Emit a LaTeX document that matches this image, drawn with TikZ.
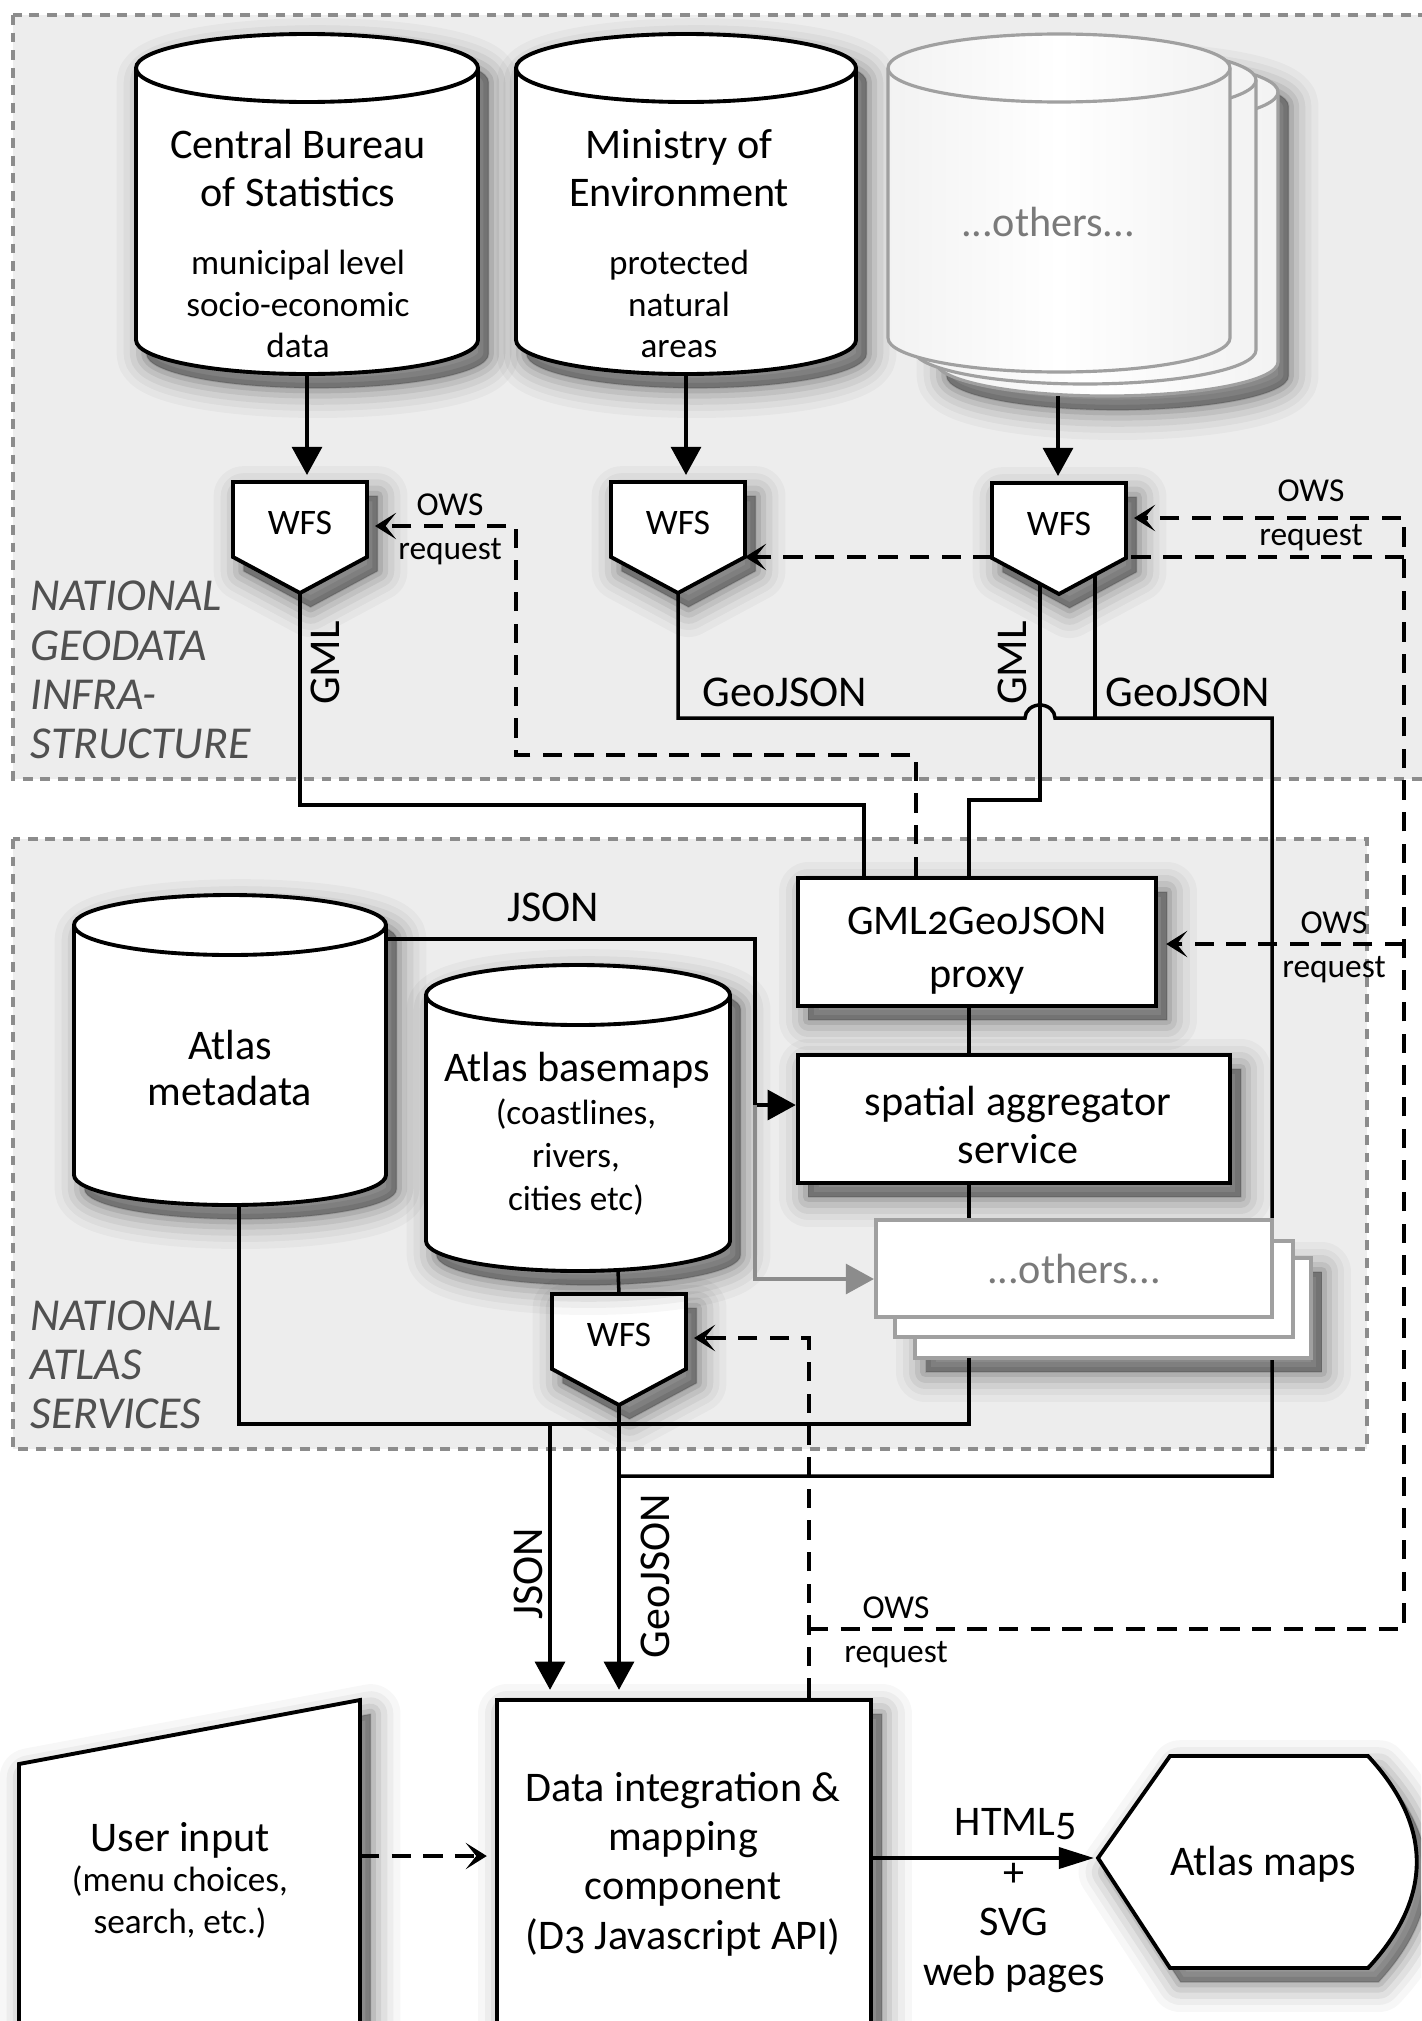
\documentclass[tikz,border=0pt]{standalone}
\usepackage{fontspec}
\setmainfont{Carlito}[Numbers=OldStyle]
\usetikzlibrary{arrows.meta}

\definecolor{regionfill}{HTML}{EDEDED}
\definecolor{regionedge}{HTML}{8C8C8C}
\definecolor{titlegray}{HTML}{505050}
\definecolor{ghostedge}{HTML}{A0A0A0}
\definecolor{ghosttext}{HTML}{7A7A7A}

\pgfdeclarelayer{backdrop}
\pgfdeclarelayer{under}
\pgfsetlayers{backdrop,under,main}

\newcommand\fsmain{\fontsize{12}{13.7}\selectfont}
\newcommand\fssub{\fontsize{10}{11.9}\selectfont}
\newcommand\fswfs{\fontsize{10.2}{12}\selectfont}
\newcommand\fsows{\fontsize{9.5}{12.5}\selectfont}
\newcommand\fsflow{\fontsize{12.5}{14}\selectfont}
\newcommand\fsregion{\fontsize{13}{14}\selectfont\itshape}

% database drum: body style, rim style, centre x, radius, top y, bottom y, ellipse half-height
\newcommand\dbdrum[7]{%
  \path[#1] (#3-#4,#5) -- (#3-#4,#6)
    arc[start angle=180,end angle=0,x radius=#4,y radius=#7]
    -- (#3+#4,#5)
    arc[start angle=0,end angle=-180,x radius=#4,y radius=#7] -- cycle;
  \path[#2] (#3+#4,#5) arc[start angle=0,end angle=180,x radius=#4,y radius=#7];
}

% WFS service marker: name, centre x, top y
\newcommand\wfsnode[3]{%
  \path[wfsbody] (#2-67,#3) -- (#2+67,#3) -- (#2+67,#3+75) -- (#2,#3+111) -- (#2-67,#3+75) -- cycle;
  \node[wfslabel] (#1) at (#2,#3+41) {WFS};
  \coordinate (#1-top) at (#2,#3);
  \coordinate (#1-tip) at (#2,#3+111);
  \coordinate (#1-r) at (#2+67,#3);
}

\begin{document}
\begin{tikzpicture}[x=0.01cm,y=-0.01cm,
  shadowlayer/.style n args={2}{preaction={draw=black,fill=black,draw opacity=#1,fill opacity=#1,
      line width=#2,line join=round,transform canvas={xshift=3pt,yshift=-4pt}}},
  softshadow/.style={shadowlayer={0.03}{17pt},shadowlayer={0.04}{13pt},shadowlayer={0.05}{9.5pt},
      shadowlayer={0.07}{6pt},shadowlayer={0.09}{3pt},shadowlayer={0.10}{0.5pt}},
  region/.style={fill=regionfill,draw=regionedge,line width=1pt,dash pattern=on 2.8pt off 2.2pt},
  regiontitle/.style={anchor=west,align=left,font=\fsregion,text=titlegray,inner sep=0pt},
  drumbody/.style={fill=white,draw=black,line width=1.1pt,softshadow},
  drumrim/.style={draw=black,line width=1.1pt},
  ghostbody/.style={draw=ghostedge,line width=0.9pt,left color=black!5,right color=black!5,middle color=white},
  ghostrim/.style={draw=ghostedge,line width=0.9pt},
  drumtitle/.style={font=\fsmain,align=center,inner sep=0pt},
  drumnote/.style={font=\fssub,align=center,inner sep=0pt},
  wfsbody/.style={fill=white,draw=black,line width=1.1pt,softshadow},
  wfslabel/.style={font=\fswfs,inner sep=0pt},
  procbox/.style={rectangle,fill=white,draw=black,line width=1.2pt,softshadow,inner sep=0pt},
  ghostrect/.style={fill=white,draw=ghostedge,line width=1.1pt},
  shapebody/.style={fill=white,draw=black,line width=1.1pt,softshadow},
  link/.style={draw=black,line width=1pt},
  flow/.style={link,-{Triangle[length=8pt,width=8.5pt]}},
  grayflow/.style={draw=black!45,line width=1pt,-{Triangle[length=8pt,width=8.5pt]}},
  owsline/.style={draw=black,line width=1pt,dash pattern=on 5.5pt off 3.5pt},
  owstip/.style={-{Stealth[length=6pt,width=7.5pt,inset=3pt]}},
  ows/.style={owsline,owstip,shorten >=0.08cm},
  htmlflow/.style={link,-{Triangle[length=10pt,width=6pt]}},
  owslabel/.style={font=\fsows,align=center,inner sep=0pt},
  flowlabel/.style={font=\fsflow,inner sep=0pt},
]
\useasboundingbox (0,0) rectangle (1421,2021);
\clip (0,0) rectangle (1421,2021);

% ---------- the two service tiers ----------
\begin{pgfonlayer}{backdrop}
  \fill[white] (0,0) rectangle (1421,2021);
  \path[region] (13,15) rectangle (1460,779);
  \path[region] (13,839) rectangle (1367,1449);
\end{pgfonlayer}

\node[regiontitle] (ngi) at (30,670) {NATIONAL\\GEODATA\\INFRA-\\STRUCTURE};
\node[regiontitle] (nas) at (30,1365) {NATIONAL\\ATLAS\\SERVICES};

% ---------- data providers ----------
\dbdrum{drumbody}{drumrim}{307}{171}{68}{340}{34}
\coordinate (cbs-b) at (307,374);
\node[drumtitle] (cbs) at (298,168) {Central Bureau\\of Statistics};
\node[drumnote] (cbs-note) at (298,304) {municipal level\\socio-economic\\data};

\dbdrum{drumbody}{drumrim}{686}{170}{68}{340}{34}
\coordinate (moe-b) at (686,374);
\node[drumtitle] (moe) at (679,168) {Ministry of\\Environment};
\node[drumnote] (moe-note) at (679,304) {protected\\natural\\areas};

\dbdrum{ghostbody,softshadow}{ghostrim}{1107}{171}{92}{362}{34}
\dbdrum{ghostbody}{ghostrim}{1085}{171}{80}{350}{34}
\dbdrum{ghostbody}{ghostrim}{1059}{171}{68}{338}{34}
\coordinate (oth-b) at (1058,396);
\node[drumtitle,text=ghosttext] (oth) at (1048,222) {...others...};

% ---------- WFS endpoints ----------
\wfsnode{w1}{300}{482}
\wfsnode{w2}{678}{482}
\wfsnode{w3}{1059}{483}
\wfsnode{w4}{619}{1294}

% ---------- atlas services ----------
\dbdrum{drumbody}{drumrim}{230}{156}{925}{1175}{30}
\coordinate (meta-b) at (239,1205);
\coordinate (meta-r) at (386,939);
\node[drumtitle,font=\fontsize{12}{13}\selectfont] (meta) at (230,1068) {Atlas\\metadata};

\dbdrum{drumbody}{drumrim}{578}{152}{995}{1241}{30}
\coordinate (bm-b) at (618,1270);
\node[drumtitle] (bm) at (577,1070) {Atlas basemaps};
\node[drumnote,font=\fontsize{10}{12.2}\selectfont] (bm-note) at (576,1157) {(coastlines,\\rivers,\\cities etc)};

\node[procbox,minimum width=3.58cm,minimum height=1.28cm] (proxy) at (977,942) {};
\node[drumtitle,font=\fontsize{12}{15}\selectfont] (proxy-t) at (977,951) {GML2GeoJSON\\proxy};
\node[procbox,minimum width=4.32cm,minimum height=1.28cm] (agg) at (1014,1119) {};
\node[drumtitle] (agg-t) at (1018,1125) {spatial aggregator\\service};

\path[ghostrect,softshadow] (915,1258) rectangle (1311,1358);
\path[ghostrect] (895,1241) rectangle (1293,1337);
\node[rectangle,fill=white,draw=ghostedge,line width=1.1pt,minimum width=3.96cm,minimum height=0.97cm,inner sep=0pt,font=\fsmain,text=ghosttext] (othf) at (1074,1268.5) {...others...};
\coordinate (stack-b) at (969,1358);

% ---------- client side ----------
\node[procbox,minimum width=3.74cm,minimum height=3.26cm] (di) at (684,1863) {};
\node[drumtitle,font=\fontsize{12}{14}\selectfont] (di-t) at (683,1864) {Data integration \&\\mapping\\component\\(D3 Javascript API)};

\path[shapebody] (19,1764) -- (360,1700) -- (360,2080) -- (19,2080) -- cycle;
\coordinate (ui-e) at (360,1856);
\node[drumtitle] (ui) at (180,1840) {User input};
\node[drumnote,font=\fontsize{10}{12}\selectfont] (ui-note) at (180,1902) {(menu choices,\\search, etc.)};

\path[shapebody] (1098,1858) -- (1170,1756) -- (1368,1756)
  .. controls (1433,1826) and (1433,1898) .. (1368,1968) -- (1170,1968) -- cycle;
\coordinate (am-w) at (1098,1858);
\node[drumtitle] (am) at (1263,1864) {Atlas maps};

% ---------- data flows ----------
\draw[flow,shorten >=0.07cm] (cbs-b) -- (cbs-b |- w1-top);
\draw[flow,shorten >=0.07cm] (moe-b) -- (moe-b |- w2-top);
\draw[flow,shorten >=0.07cm] (oth-b) -- (oth-b |- w3-top);

\coordinate (gml1) at (864,805);
\draw[link] (w1-tip) |- (gml1) -- (gml1 |- proxy.north);
\coordinate (w3-gml) at (1040,585);
\coordinate (gml3) at (969,800);
\draw[link] (w3-gml) |- (gml3) -- (gml3 |- proxy.north);

\coordinate (gjoin) at (618,1476);
\begin{pgfonlayer}{under}
  \draw[link] (w2-tip) |- (1025,718)
    arc[start angle=180,end angle=360,x radius=15,y radius=13]
    -- (1272,718) -- (1272,1476) -- (gjoin);
  \draw[owsline,owstip] (1404,557) -- (w2-r |- 0,557);
\end{pgfonlayer}
\draw[link] (1095,574) -- (1095,718);

\draw[link] (proxy.south -| gml3) -- (agg.north -| gml3);
\draw[link] (agg.south -| gml3) -- (othf.north -| gml3);
\coordinate (jn) at (969,1424);
\draw[link] (meta-b) -- (meta-b |- jn) -- (jn) -- (stack-b);

\coordinate (jbend) at (755,1105);
\draw[flow] (meta-r) -| (jbend) -- (jbend -| agg.west);
\coordinate (gy) at (0,1279);
\draw[grayflow] (jbend) |- (othf.west |- gy);

\draw[link] (bm-b) -- (w4-top);
\coordinate (jsplit) at (550,1424);
\draw[flow,shorten >=0.08cm] (jsplit) -- (jsplit |- di.north);
\draw[flow,shorten >=0.08cm] (w4-tip) -- (w4-tip |- di.north);

\draw[htmlflow,shorten >=0.04cm] (di.east |- am-w) -- (am-w);
\draw[ows] (ui-e) -- (di.west |- ui-e);

% ---------- OWS requests ----------
\coordinate (o1a) at (916,755);
\coordinate (o1b) at (516,526);
\draw[ows] (o1a |- proxy.north) -- (o1a) -| (o1b) -- (o1b -| w1-r);
\coordinate (o4) at (809,1338);
\draw[ows] (o4 |- di.north) -- (o4) -- (o4 -| w4-r);
\coordinate (o5) at (809,1629);
\coordinate (o6) at (1404,518);
\draw[ows] (o5) -| (o6) -- (o6 -| w3-r);
\draw[ows] (1404,944) -- (proxy.east |- 0,944);

% ---------- labels ----------
\node[flowlabel,rotate=90] (l-gml1) at (325,663) {GML};
\node[flowlabel,rotate=90] (l-gml3) at (1012,663) {GML};
\node[flowlabel] (l-gj2) at (785,692) {GeoJSON};
\node[flowlabel] (l-gj3) at (1188,692) {GeoJSON};
\node[flowlabel] (l-json) at (553,907) {JSON};
\node[flowlabel,rotate=90] (l-json2) at (528,1574) {JSON};
\node[flowlabel,rotate=90] (l-gj4) at (655,1576) {GeoJSON};

\node[owslabel] (q1) at (450,529) {OWS\\request};
\node[owslabel] (q3) at (1311,515) {OWS\\request};
\node[owslabel] (qp) at (1334,947) {OWS\\request};
\node[owslabel] (qd) at (896,1632) {OWS\\request};

\node[drumtitle] (l-html) at (1016,1824) {HTML5};
\node[drumtitle,font=\fontsize{12}{14}\selectfont] (l-svg) at (1014,1928) {+\\SVG\\web pages};
\end{tikzpicture}
\end{document}
